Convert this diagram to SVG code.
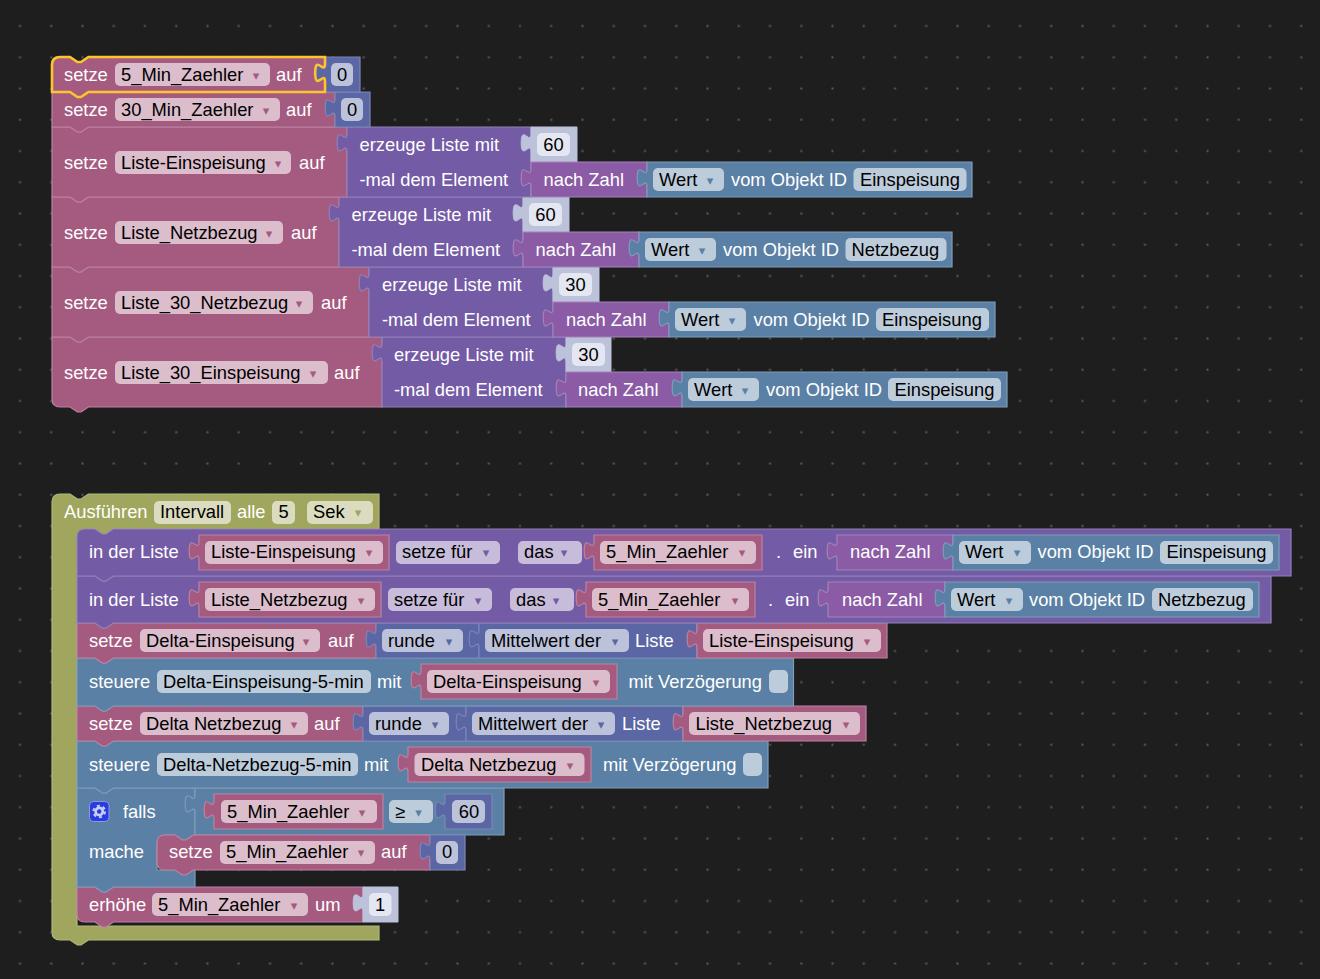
<svg xmlns="http://www.w3.org/2000/svg" width="1320" height="979" viewBox="0 0 1320 979">
<defs>
<pattern id="grid" patternUnits="userSpaceOnUse" width="31.25" height="31.25"><rect x="19" y="25" width="2" height="2" fill="#5a5a5a"/></pattern>
</defs>
<style>
text{font-family:"Liberation Sans",Arial,sans-serif;font-size:18.33px;white-space:pre}
.w{fill:#fff}.k{fill:#000}.c{text-anchor:middle}
.a{font-family:"DejaVu Sans",sans-serif;font-size:13px;text-anchor:middle}
.bp{fill:#a55b80;stroke:#bb82a0;stroke-width:1.2}
.bm{fill:#5b67a5;stroke:#7c86b8;stroke-width:1.2}
.bl{fill:#745ba5;stroke:#9180b8;stroke-width:1.2}
.bn{fill:#8b5ba5;stroke:#a482b8;stroke-width:1.2}
.bs{fill:#5b80a5;stroke:#7f9cb8;stroke-width:1.2}
.bo{fill:#a0a65d;stroke:#b2b77c;stroke-width:1.2}
.bx{fill:#bdc2db;stroke:#bdc2db;stroke-width:1}
.fp{fill:#dbbdcc}.fm{fill:#bdc2db}.fl{fill:#c7bddb}.fs{fill:#bdccdb}.fo{fill:#dbdcbf}.fx{fill:#e4e7f1}
.ap{fill:#a55b80}.am{fill:#5b67a5}.al{fill:#745ba5}.as{fill:#5b80a5}.ao{fill:#a0a65d}
</style>
<rect width="1320" height="979" fill="#1e1e1e"/>
<rect width="1320" height="979" fill="url(#grid)"/>

<g id="stack-top">
<g id="set-liste-30-einspeisung">
<path class="bp" d="M52,337H70l7.4,5 3.6,0 7.4,-5H382V407H88.4l-7.4,5 -3.6,0 -7.4,-5H60Q52,407 52,399Z"/>
<text class="w" x="64" y="378.7">setze</text>
<rect class="fp" x="115" y="361" width="213" height="23" rx="5"/>
<text class="k" x="121" y="378.7">Liste_30_Einspeisung</text><text class="a ap" x="313" y="378">▾</text>
<text class="w" x="334" y="378.7">auf</text>
</g>
<g id="list-4">
<path class="bl" d="M382,337H566V407H382V362c0,-12.3 -9.8,9.8 -9.8,-9.2s9.8,3.1 9.8,-9.2Z"/>
<text class="w" x="394" y="360.7">erzeuge Liste mit</text>
<text class="w" x="394" y="395.7">-mal dem Element</text>
</g>
<g id="n30-b">
<path class="bx" d="M566,337H611V372H566V362c0,-12.3 -9.8,9.8 -9.8,-9.2s9.8,3.1 9.8,-9.2Z"/>
<rect class="fx" x="572" y="343" width="33" height="23" rx="5"/><text class="k c" x="588.5" y="360.7">30</text>
</g>
<g id="num-4">
<path class="bn" d="M566,372H682V407H566V397c0,-12.3 -9.8,9.8 -9.8,-9.2s9.8,3.1 9.8,-9.2Z"/>
<text class="w" x="578" y="395.7">nach Zahl</text>
</g>
<g id="obj-4">
<path class="bs" d="M682,372H1007V407H682V397c0,-12.3 -9.8,9.8 -9.8,-9.2s9.8,3.1 9.8,-9.2Z"/>
<rect class="fs" x="688" y="378" width="71" height="23" rx="5"/><text class="k" x="694" y="395.7">Wert</text><text class="a as" x="745" y="395">▾</text>
<text class="w" x="766" y="395.7">vom Objekt ID</text>
<rect class="fs" x="888" y="378" width="113" height="23" rx="5"/><text class="k" x="894.5" y="395.7">Einspeisung</text>
</g>

<g id="set-liste-30-netzbezug">
<path class="bp" d="M52,267H70l7.4,5 3.6,0 7.4,-5H369V337H88.4l-7.4,5 -3.6,0 -7.4,-5H52Z"/>
<text class="w" x="64" y="308.7">setze</text>
<rect class="fp" x="115" y="291" width="198" height="23" rx="5"/>
<text class="k" x="121" y="308.7">Liste_30_Netzbezug</text><text class="a ap" x="299" y="308">▾</text>
<text class="w" x="321" y="308.7">auf</text>
</g>
<g id="list-3">
<path class="bl" d="M369,267H553V337H369V292c0,-12.3 -9.8,9.8 -9.8,-9.2s9.8,3.1 9.8,-9.2Z"/>
<text class="w" x="382" y="290.7">erzeuge Liste mit</text>
<text class="w" x="382" y="325.7">-mal dem Element</text>
</g>
<g id="n30-a">
<path class="bx" d="M553,267H599V302H553V292c0,-12.3 -9.8,9.8 -9.8,-9.2s9.8,3.1 9.8,-9.2Z"/>
<rect class="fx" x="559" y="273" width="33" height="23" rx="5"/><text class="k c" x="575.5" y="290.7">30</text>
</g>
<g id="num-3">
<path class="bn" d="M553,302H669V337H553V327c0,-12.3 -9.8,9.8 -9.8,-9.2s9.8,3.1 9.8,-9.2Z"/>
<text class="w" x="566" y="325.7">nach Zahl</text>
</g>
<g id="obj-3">
<path class="bs" d="M669,302H995V337H669V327c0,-12.3 -9.8,9.8 -9.8,-9.2s9.8,3.1 9.8,-9.2Z"/>
<rect class="fs" x="675" y="308" width="71" height="23" rx="5"/><text class="k" x="681" y="325.7">Wert</text><text class="a as" x="732" y="325">▾</text>
<text class="w" x="753.5" y="325.7">vom Objekt ID</text>
<rect class="fs" x="876" y="308" width="113" height="23" rx="5"/><text class="k" x="882" y="325.7">Einspeisung</text>
</g>

<g id="set-liste-netzbezug">
<path class="bp" d="M52,197H70l7.4,5 3.6,0 7.4,-5H339V267H88.4l-7.4,5 -3.6,0 -7.4,-5H52Z"/>
<text class="w" x="64" y="238.7">setze</text>
<rect class="fp" x="115" y="221" width="168" height="23" rx="5"/>
<text class="k" x="121" y="238.7">Liste_Netzbezug</text><text class="a ap" x="269" y="238">▾</text>
<text class="w" x="291" y="238.7">auf</text>
</g>
<g id="list-2">
<path class="bl" d="M339,197H523V267H339V222c0,-12.3 -9.8,9.8 -9.8,-9.2s9.8,3.1 9.8,-9.2Z"/>
<text class="w" x="351.5" y="220.7">erzeuge Liste mit</text>
<text class="w" x="351.5" y="255.7">-mal dem Element</text>
</g>
<g id="n60-b">
<path class="bx" d="M523,197H569V232H523V222c0,-12.3 -9.8,9.8 -9.8,-9.2s9.8,3.1 9.8,-9.2Z"/>
<rect class="fx" x="529" y="203" width="33" height="23" rx="5"/><text class="k c" x="545.5" y="220.7">60</text>
</g>
<g id="num-2">
<path class="bn" d="M523,232H639V267H523V257c0,-12.3 -9.8,9.8 -9.8,-9.2s9.8,3.1 9.8,-9.2Z"/>
<text class="w" x="535.5" y="255.7">nach Zahl</text>
</g>
<g id="obj-2">
<path class="bs" d="M639,232H952V267H639V257c0,-12.3 -9.8,9.8 -9.8,-9.2s9.8,3.1 9.8,-9.2Z"/>
<rect class="fs" x="645" y="238" width="71" height="23" rx="5"/><text class="k" x="651" y="255.7">Wert</text><text class="a as" x="702" y="255">▾</text>
<text class="w" x="723" y="255.7">vom Objekt ID</text>
<rect class="fs" x="845.5" y="238" width="101" height="23" rx="5"/><text class="k" x="851.5" y="255.7">Netzbezug</text>
</g>

<g id="set-liste-einspeisung">
<path class="bp" d="M52,127H70l7.4,5 3.6,0 7.4,-5H347V197H88.4l-7.4,5 -3.6,0 -7.4,-5H52Z"/>
<text class="w" x="64" y="168.7">setze</text>
<rect class="fp" x="115" y="151" width="176" height="23" rx="5"/>
<text class="k" x="121" y="168.7">Liste-Einspeisung</text><text class="a ap" x="278" y="168">▾</text>
<text class="w" x="299" y="168.7">auf</text>
</g>
<g id="list-1">
<path class="bl" d="M347,127H531V197H347V152c0,-12.3 -9.8,9.8 -9.8,-9.2s9.8,3.1 9.8,-9.2Z"/>
<text class="w" x="359.5" y="150.7">erzeuge Liste mit</text>
<text class="w" x="359.5" y="185.7">-mal dem Element</text>
</g>
<g id="n60-a">
<path class="bx" d="M531,127H577V162H531V152c0,-12.3 -9.8,9.8 -9.8,-9.2s9.8,3.1 9.8,-9.2Z"/>
<rect class="fx" x="537" y="133" width="33" height="23" rx="5"/><text class="k c" x="553.5" y="150.7">60</text>
</g>
<g id="num-1">
<path class="bn" d="M531,162H647V197H531V187c0,-12.3 -9.8,9.8 -9.8,-9.2s9.8,3.1 9.8,-9.2Z"/>
<text class="w" x="543.5" y="185.7">nach Zahl</text>
</g>
<g id="obj-1">
<path class="bs" d="M647,162H972V197H647V187c0,-12.3 -9.8,9.8 -9.8,-9.2s9.8,3.1 9.8,-9.2Z"/>
<rect class="fs" x="653" y="168" width="71" height="23" rx="5"/><text class="k" x="659" y="185.7">Wert</text><text class="a as" x="710" y="185">▾</text>
<text class="w" x="731" y="185.7">vom Objekt ID</text>
<rect class="fs" x="853.5" y="168" width="113" height="23" rx="5"/><text class="k" x="860" y="185.7">Einspeisung</text>
</g>

<g id="set-30-min">
<path class="bp" d="M52,92H70l7.4,5 3.6,0 7.4,-5H335V127H88.4l-7.4,5 -3.6,0 -7.4,-5H52Z"/>
<text class="w" x="64" y="115.7">setze</text>
<rect class="fp" x="115" y="98" width="165" height="23" rx="5"/>
<text class="k" x="121" y="115.7">30_Min_Zaehler</text><text class="a ap" x="266" y="115">▾</text>
<text class="w" x="286" y="115.7">auf</text>
</g>
<g id="zero-2">
<path class="bm" d="M335,92H370V127H335V117c0,-12.3 -9.8,9.8 -9.8,-9.2s9.8,3.1 9.8,-9.2Z"/>
<rect class="fm" x="341" y="98" width="22" height="23" rx="5"/><text class="k c" x="352" y="115.7">0</text>
</g>

<g id="set-5-min">
<path class="bp" d="M60,57H70l7.4,5 3.6,0 7.4,-5H325V92H88.4l-7.4,5 -3.6,0 -7.4,-5H52V65Q52,57 60,57Z"/>
<text class="w" x="64" y="80.7">setze</text>
<rect class="fp" x="115" y="63" width="155" height="23" rx="5"/>
<text class="k" x="121" y="80.7">5_Min_Zaehler</text><text class="a ap" x="256" y="80">▾</text>
<text class="w" x="276" y="80.7">auf</text>
</g>
<g id="zero-1">
<path class="bm" d="M325,57H360V92H325V82c0,-12.3 -9.8,9.8 -9.8,-9.2s9.8,3.1 9.8,-9.2Z"/>
<rect class="fm" x="331" y="63" width="22" height="23" rx="5"/><text class="k c" x="342" y="80.7">0</text>
</g>
<path id="selection" fill="none" stroke="#fcc52d" stroke-width="2.6" d="M52,92V65Q52,57 60,57H70l7.4,5 3.6,0 7.4,-5H325V63.6C325,75.9 315.2,53.8 315.2,72.8C315.2,91.8 325,69.7 325,82V92H88.4l-7.4,5 -3.6,0 -7.4,-5Z"/>
</g>

<g id="stack-bottom">
<g id="interval">
<path class="bo" d="M60,494H70l7.4,5 3.6,0 7.4,-5H379V529H113.4l-7.4,5 -3.6,0 -7.4,-5H85Q77,529 77,537V926H379V940H88.4l-7.4,5 -3.6,0 -7.4,-5H60Q52,940 52,932V502Q52,494 60,494Z"/>
<text class="w" x="64" y="517.7">Ausführen</text>
<rect class="fo" x="154" y="501" width="77" height="23" rx="5"/><text class="k" x="160" y="517.7">Intervall</text>
<text class="w" x="237" y="517.7">alle</text>
<rect class="fo" x="272" y="501" width="23" height="23" rx="5"/><text class="k c" x="283.5" y="517.7">5</text>
<rect class="fo" x="307" y="501" width="66" height="23" rx="5"/><text class="k" x="313" y="517.7">Sek</text><text class="a ao" x="358" y="517">▾</text>
</g>

<g id="increment">
<path class="bp" d="M77,887H95l7.4,5 3.6,0 7.4,-5H363V922H113.4l-7.4,5 -3.6,0 -7.4,-5H85Q77,922 77,914Z"/>
<text class="w" x="89" y="910.7">erhöhe</text>
<rect class="fp" x="152" y="893" width="156" height="23" rx="5"/><text class="k" x="158" y="910.7">5_Min_Zaehler</text><text class="a ap" x="294" y="910">▾</text>
<text class="w" x="315" y="910.7">um</text>
</g>
<g id="one">
<path class="bx" d="M363,887H398V922H363V912c0,-12.3 -9.8,9.8 -9.8,-9.2s9.8,3.1 9.8,-9.2Z"/>
<rect class="fx" x="369" y="893" width="22.5" height="23" rx="5"/><text class="k c" x="380" y="910.7">1</text>
</g>

<g id="if">
<path class="bs" d="M77,788H95l7.4,5 3.6,0 7.4,-5H195V835H193.4l-7.4,5 -3.6,0 -7.4,-5H165Q157,835 157,843V870H195V887H113.4l-7.4,5 -3.6,0 -7.4,-5H77Z"/>
<rect x="89.5" y="801.5" width="19.5" height="20" rx="4" fill="#2a3be0" stroke="#8d97e6"/>
<circle cx="99.2" cy="811.5" r="3.6" fill="none" stroke="#c9d2f5" stroke-width="2.6"/>
<circle cx="99.2" cy="811.5" r="5.8" fill="none" stroke="#c9d2f5" stroke-width="2" stroke-dasharray="3 3.07"/>
<text class="w" x="123" y="817.7">falls</text>
<text class="w" x="89" y="857.7">mache</text>
</g>
<g id="compare">
<path class="bs" d="M195,788H504V835H195V813c0,-12.3 -9.8,9.8 -9.8,-9.2s9.8,3.1 9.8,-9.2Z"/>
<rect class="fs" x="389" y="800" width="44" height="23" rx="5"/><text class="k" x="395" y="817.7">≥</text><text class="a as" x="418.5" y="817">▾</text>
</g>
<g id="var-5-min-compare">
<path class="bp" d="M214,794H383V829H214V819c0,-12.3 -9.8,9.8 -9.8,-9.2s9.8,3.1 9.8,-9.2Z"/>
<rect class="fp" x="221" y="800" width="156" height="23" rx="5"/><text class="k" x="227" y="817.7">5_Min_Zaehler</text><text class="a ap" x="362" y="817">▾</text>
</g>
<g id="n60-c">
<path class="bm" d="M445,794H492V829H445V819c0,-12.3 -9.8,9.8 -9.8,-9.2s9.8,3.1 9.8,-9.2Z"/>
<rect class="fm" x="452" y="800" width="33" height="23" rx="5"/><text class="k c" x="469" y="817.7">60</text>
</g>
<g id="set-reset">
<path class="bp" d="M165,835H175l7.4,5 3.6,0 7.4,-5H430V870H193.4l-7.4,5 -3.6,0 -7.4,-5H165Q157,870 157,862V843Q157,835 165,835Z"/>
<text class="w" x="169" y="858">setze</text>
<rect class="fp" x="220" y="841" width="155" height="23" rx="5"/><text class="k" x="226" y="858">5_Min_Zaehler</text><text class="a ap" x="361" y="857">▾</text>
<text class="w" x="381" y="858">auf</text>
</g>
<g id="zero-3">
<path class="bm" d="M430,835H465V870H430V860c0,-12.3 -9.8,9.8 -9.8,-9.2s9.8,3.1 9.8,-9.2Z"/>
<rect class="fm" x="436" y="841" width="22" height="23" rx="5"/><text class="k c" x="447" y="858">0</text>
</g>

<g id="control-2">
<path class="bs" d="M77,741H95l7.4,5 3.6,0 7.4,-5H768V788H113.4l-7.4,5 -3.6,0 -7.4,-5H77Z"/>
<text class="w" x="89" y="770.7">steuere</text>
<rect class="fs" x="157" y="753" width="201" height="23" rx="5"/><text class="k" x="163" y="770.7">Delta-Netzbezug-5-min</text>
<text class="w" x="364" y="770.7">mit</text>
<text class="w" x="603" y="770.7">mit Verzögerung</text>
<rect class="fs" x="743" y="753" width="19" height="23" rx="5"/>
</g>
<g id="var-delta-n">
<path class="bp" d="M408,747H591V782H408V772c0,-12.3 -9.8,9.8 -9.8,-9.2s9.8,3.1 9.8,-9.2Z"/>
<rect class="fp" x="414.5" y="753" width="170" height="23" rx="5"/><text class="k" x="421" y="770.7">Delta Netzbezug</text><text class="a ap" x="570" y="770">▾</text>
</g>

<g id="set-delta-n">
<path class="bp" d="M77,706H95l7.4,5 3.6,0 7.4,-5H363V741H113.4l-7.4,5 -3.6,0 -7.4,-5H77Z"/>
<text class="w" x="89" y="729.7">setze</text>
<rect class="fp" x="140" y="712" width="168" height="23" rx="5"/><text class="k" x="146" y="729.7">Delta Netzbezug</text><text class="a ap" x="294" y="729">▾</text>
<text class="w" x="314" y="729.7">auf</text>
</g>
<g id="round-2">
<path class="bm" d="M363,706H466V741H363V731c0,-12.3 -9.8,9.8 -9.8,-9.2s9.8,3.1 9.8,-9.2Z"/>
<rect class="fm" x="369" y="712" width="80" height="23" rx="5"/><text class="k" x="375" y="729.7">runde</text><text class="a am" x="435" y="729">▾</text>
</g>
<g id="mean-2">
<path class="bm" d="M466,706H683V741H466V731c0,-12.3 -9.8,9.8 -9.8,-9.2s9.8,3.1 9.8,-9.2Z"/>
<rect class="fm" x="472" y="712" width="143" height="23" rx="5"/><text class="k" x="478" y="729.7">Mittelwert der</text><text class="a am" x="601" y="729">▾</text>
<text class="w" x="622" y="729.7">Liste</text>
</g>
<g id="var-liste-n">
<path class="bp" d="M683,706H866V741H683V731c0,-12.3 -9.8,9.8 -9.8,-9.2s9.8,3.1 9.8,-9.2Z"/>
<rect class="fp" x="689" y="712" width="171" height="23" rx="5"/><text class="k" x="695.5" y="729.7">Liste_Netzbezug</text><text class="a ap" x="846" y="729">▾</text>
</g>

<g id="control-1">
<path class="bs" d="M77,658H95l7.4,5 3.6,0 7.4,-5H793.5V706H113.4l-7.4,5 -3.6,0 -7.4,-5H77Z"/>
<text class="w" x="89" y="687.7">steuere</text>
<rect class="fs" x="157" y="670" width="214" height="23" rx="5"/><text class="k" x="163" y="687.7">Delta-Einspeisung-5-min</text>
<text class="w" x="377" y="687.7">mit</text>
<text class="w" x="628.5" y="687.7">mit Verzögerung</text>
<rect class="fs" x="769" y="670" width="19" height="23" rx="5"/>
</g>
<g id="var-delta-e">
<path class="bp" d="M421,664H617V699H421V689c0,-12.3 -9.8,9.8 -9.8,-9.2s9.8,3.1 9.8,-9.2Z"/>
<rect class="fp" x="427" y="670" width="183" height="23" rx="5"/><text class="k" x="433" y="687.7">Delta-Einspeisung</text><text class="a ap" x="596" y="687">▾</text>
</g>

<g id="set-delta-e">
<path class="bp" d="M77,623H95l7.4,5 3.6,0 7.4,-5H376V658H113.4l-7.4,5 -3.6,0 -7.4,-5H77Z"/>
<text class="w" x="89" y="646.7">setze</text>
<rect class="fp" x="140" y="629" width="180" height="23" rx="5"/><text class="k" x="146" y="646.7">Delta-Einspeisung</text><text class="a ap" x="306" y="646">▾</text>
<text class="w" x="328" y="646.7">auf</text>
</g>
<g id="round-1">
<path class="bm" d="M376,623H479V658H376V648c0,-12.3 -9.8,9.8 -9.8,-9.2s9.8,3.1 9.8,-9.2Z"/>
<rect class="fm" x="382" y="629" width="81" height="23" rx="5"/><text class="k" x="388" y="646.7">runde</text><text class="a am" x="449" y="646">▾</text>
</g>
<g id="mean-1">
<path class="bm" d="M479,623H697V658H479V648c0,-12.3 -9.8,9.8 -9.8,-9.2s9.8,3.1 9.8,-9.2Z"/>
<rect class="fm" x="485" y="629" width="144" height="23" rx="5"/><text class="k" x="491" y="646.7">Mittelwert der</text><text class="a am" x="615" y="646">▾</text>
<text class="w" x="635" y="646.7">Liste</text>
</g>
<g id="var-liste-e">
<path class="bp" d="M697,623H887V658H697V648c0,-12.3 -9.8,9.8 -9.8,-9.2s9.8,3.1 9.8,-9.2Z"/>
<rect class="fp" x="703" y="629" width="178" height="23" rx="5"/><text class="k" x="709" y="646.7">Liste-Einspeisung</text><text class="a ap" x="867" y="646">▾</text>
</g>

<g id="list-set-2">
<path class="bl" d="M77,576H95l7.4,5 3.6,0 7.4,-5H1271V623H113.4l-7.4,5 -3.6,0 -7.4,-5H77Z"/>
<text class="w" x="89" y="605.7">in der Liste</text>
<rect class="fl" x="388" y="588" width="104" height="23" rx="5"/><text class="k" x="394" y="605.7">setze für</text><text class="a al" x="478" y="605">▾</text>
<rect class="fl" x="510" y="588" width="64" height="23" rx="5"/><text class="k" x="516" y="605.7">das</text><text class="a al" x="556" y="605">▾</text>
<text class="w" x="768" y="605.7">.</text>
<text class="w" x="785" y="605.7">ein</text>
</g>
<g id="var-liste-n2">
<path class="bp" d="M199,582H381V617H199V607c0,-12.3 -9.8,9.8 -9.8,-9.2s9.8,3.1 9.8,-9.2Z"/>
<rect class="fp" x="205" y="588" width="170" height="23" rx="5"/><text class="k" x="211" y="605.7">Liste_Netzbezug</text><text class="a ap" x="361" y="605">▾</text>
</g>
<g id="var-5-min-b">
<path class="bp" d="M586,582H755V617H586V607c0,-12.3 -9.8,9.8 -9.8,-9.2s9.8,3.1 9.8,-9.2Z"/>
<rect class="fp" x="592" y="588" width="157" height="23" rx="5"/><text class="k" x="598" y="605.7">5_Min_Zaehler</text><text class="a ap" x="735" y="605">▾</text>
</g>
<g id="num-6">
<path class="bn" d="M828,582H945V617H828V607c0,-12.3 -9.8,9.8 -9.8,-9.2s9.8,3.1 9.8,-9.2Z"/>
<text class="w" x="842" y="605.7">nach Zahl</text>
</g>
<g id="obj-6">
<path class="bs" d="M945,582H1259V617H945V607c0,-12.3 -9.8,9.8 -9.8,-9.2s9.8,3.1 9.8,-9.2Z"/>
<rect class="fs" x="951" y="588" width="72" height="23" rx="5"/><text class="k" x="957" y="605.7">Wert</text><text class="a as" x="1009" y="605">▾</text>
<text class="w" x="1029" y="605.7">vom Objekt ID</text>
<rect class="fs" x="1152" y="588" width="101" height="23" rx="5"/><text class="k" x="1158" y="605.7">Netzbezug</text>
</g>

<g id="list-set-1">
<path class="bl" d="M85,529H95l7.4,5 3.6,0 7.4,-5H1291V576H113.4l-7.4,5 -3.6,0 -7.4,-5H77V537Q77,529 85,529Z"/>
<text class="w" x="89" y="558">in der Liste</text>
<rect class="fl" x="396" y="541" width="104" height="23" rx="5"/><text class="k" x="402" y="558">setze für</text><text class="a al" x="486" y="557">▾</text>
<rect class="fl" x="518" y="541" width="64" height="23" rx="5"/><text class="k" x="524" y="558">das</text><text class="a al" x="564" y="557">▾</text>
<text class="w" x="776" y="558">.</text>
<text class="w" x="793" y="558">ein</text>
</g>
<g id="var-liste-e2">
<path class="bp" d="M199,535H389V570H199V560c0,-12.3 -9.8,9.8 -9.8,-9.2s9.8,3.1 9.8,-9.2Z"/>
<rect class="fp" x="205" y="541" width="178" height="23" rx="5"/><text class="k" x="211" y="558">Liste-Einspeisung</text><text class="a ap" x="369" y="557">▾</text>
</g>
<g id="var-5-min-a">
<path class="bp" d="M594,535H762V570H594V560c0,-12.3 -9.8,9.8 -9.8,-9.2s9.8,3.1 9.8,-9.2Z"/>
<rect class="fp" x="600" y="541" width="156" height="23" rx="5"/><text class="k" x="606" y="558">5_Min_Zaehler</text><text class="a ap" x="742" y="557">▾</text>
</g>
<g id="num-5">
<path class="bn" d="M837,535H953V570H837V560c0,-12.3 -9.8,9.8 -9.8,-9.2s9.8,3.1 9.8,-9.2Z"/>
<text class="w" x="850" y="558">nach Zahl</text>
</g>
<g id="obj-5">
<path class="bs" d="M953,535H1279V570H953V560c0,-12.3 -9.8,9.8 -9.8,-9.2s9.8,3.1 9.8,-9.2Z"/>
<rect class="fs" x="959" y="541" width="72" height="23" rx="5"/><text class="k" x="965" y="558">Wert</text><text class="a as" x="1017" y="557">▾</text>
<text class="w" x="1037.5" y="558">vom Objekt ID</text>
<rect class="fs" x="1160" y="541" width="113" height="23" rx="5"/><text class="k" x="1166.5" y="558">Einspeisung</text>
</g>
</g>
</svg>
